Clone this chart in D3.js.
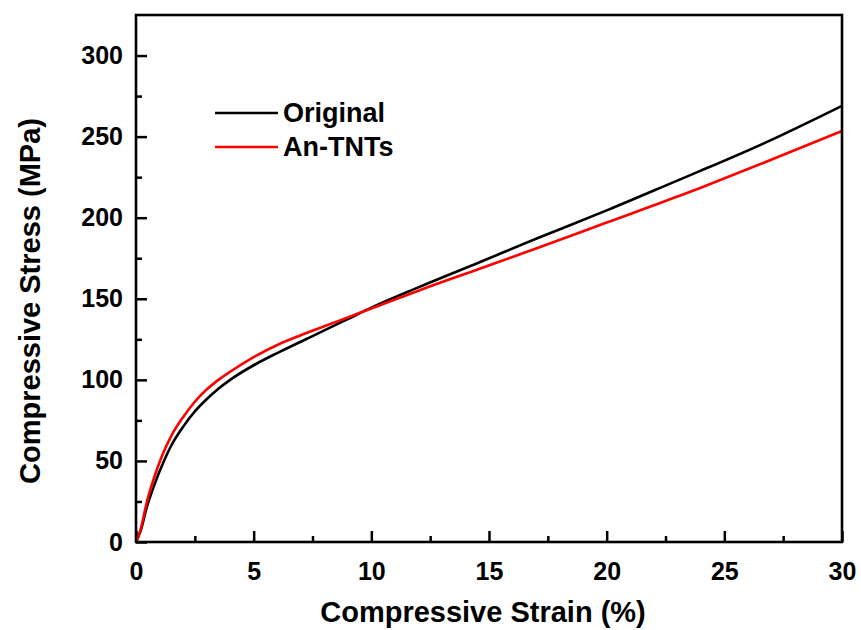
<!DOCTYPE html>
<html>
<head>
<meta charset="utf-8">
<script src="https://cdn.jsdelivr.net/npm/d3@7"></script>
<style>
  body { margin: 0; background: #fff; }
  svg text { font-family: Arial, "Liberation Sans", sans-serif; font-weight: bold; fill: #000; }
</style>
</head>
<body>
<div id="chart"></div>
<script>
// strain (%) values where the curves were read
const strainOriginal = [0, 0.2, 0.45, 0.8, 1.16, 1.5, 2, 2.5, 3, 3.5, 4, 5, 6, 7, 8, 9, 10, 12, 14.6, 17, 20, 23.1, 24, 26.7, 30];
const stressOriginal = [0, 7, 21, 36, 49, 59.5, 71, 80.5, 88, 94.5, 100, 109, 116.5, 123.5, 130.5, 137.5, 144.5, 157, 172.5, 187, 204.5, 223.5, 229, 246, 269];

const strainAnTNTs = [0, 0.2, 0.45, 0.8, 1.16, 1.5, 2, 2.5, 3, 3.5, 4, 5, 6, 7, 8, 9, 10, 12, 14.6, 17, 20, 23.1, 24, 26.7, 30];
const stressAnTNTs = [0, 8, 24, 41, 55, 65.5, 77, 86.5, 94, 100, 105, 114, 121.5, 127.5, 133, 138.5, 144, 155, 168.5, 181, 197, 213.5, 218.5, 234, 253.5];

const seriesNames = ["Original", "An-TNTs"];
const seriesColors = ["#000000", "#ff0000"];

const xTicks = [0, 5, 10, 15, 20, 25, 30];
const yTicks = [0, 50, 100, 150, 200, 250, 300];

const width = 861, height = 630;
const margin = {left: 136, right: 19, top: 15, bottom: 88};

const svg = d3.select("#chart").append("svg")
    .attr("width", width)
    .attr("height", height);

const x = d3.scaleLinear().domain([0, 30]).range([margin.left, width - margin.right]);
const y = d3.scaleLinear().domain([0, 325]).range([height - margin.bottom, margin.top]);

// minor ticks (inward)
svg.append("g")
    .attr("transform", "translate(0," + y(0) + ")")
    .call(d3.axisBottom(x).tickValues(d3.range(2.5, 30, 5)).tickSize(-6).tickFormat(""))
    .call(g => g.select(".domain").remove());
svg.append("g")
    .attr("transform", "translate(" + x(0) + ",0)")
    .call(d3.axisLeft(y).tickValues(d3.range(25, 325, 50)).tickSize(-6).tickFormat(""))
    .call(g => g.select(".domain").remove());

// major ticks
const xAxis = svg.append("g")
    .attr("transform", "translate(0," + y(0) + ")")
    .call(d3.axisBottom(x).tickValues(xTicks).tickSize(-11).tickPadding(20));
xAxis.select(".domain").remove();
xAxis.selectAll("text").attr("font-size", 25).attr("font-family", null);

const yAxis = svg.append("g")
    .attr("transform", "translate(" + x(0) + ",0)")
    .call(d3.axisLeft(y).tickValues(yTicks).tickSize(-11).tickPadding(13));
yAxis.select(".domain").remove();
yAxis.selectAll("text").attr("font-size", 25).attr("font-family", null);

svg.selectAll(".tick line").attr("stroke", "#000").attr("stroke-width", 2.5);

// curves
const line = d3.line()
    .x(d => x(d[0]))
    .y(d => y(d[1]))
    .curve(d3.curveMonotoneX);

const series = [
    d3.zip(strainOriginal, stressOriginal),
    d3.zip(strainAnTNTs, stressAnTNTs)
];

svg.selectAll("path.curve")
    .data(series)
    .enter().append("path")
    .attr("class", "curve")
    .attr("d", line)
    .attr("fill", "none")
    .attr("stroke", (d, i) => seriesColors[i])
    .attr("stroke-width", 2.6);

// frame
svg.append("rect")
    .attr("x", x(0))
    .attr("y", margin.top)
    .attr("width", x(30) - x(0))
    .attr("height", y(0) - margin.top)
    .attr("fill", "none")
    .attr("stroke", "#000")
    .attr("stroke-width", 2.6);

// legend
const legend = svg.append("g").selectAll("g")
    .data(seriesNames)
    .enter().append("g")
    .attr("transform", (d, i) => "translate(215," + (113 + i * 34) + ")");
legend.append("line")
    .attr("x1", 0).attr("x2", 63)
    .attr("stroke", (d, i) => seriesColors[i])
    .attr("stroke-width", 2.6);
legend.append("text")
    .attr("x", 68)
    .attr("dy", "0.35em")
    .attr("font-size", 27)
    .text(d => d);

// axis titles
svg.append("text")
    .attr("x", (x(0) + x(30)) / 2 - 6)
    .attr("y", 622)
    .attr("text-anchor", "middle")
    .attr("font-size", 29)
    .text("Compressive Strain (%)");

svg.append("text")
    .attr("transform", "translate(40," + 301 + ") rotate(-90)")
    .attr("text-anchor", "middle")
    .attr("font-size", 29)
    .text("Compressive Stress (MPa)");
</script>
</body>
</html>
